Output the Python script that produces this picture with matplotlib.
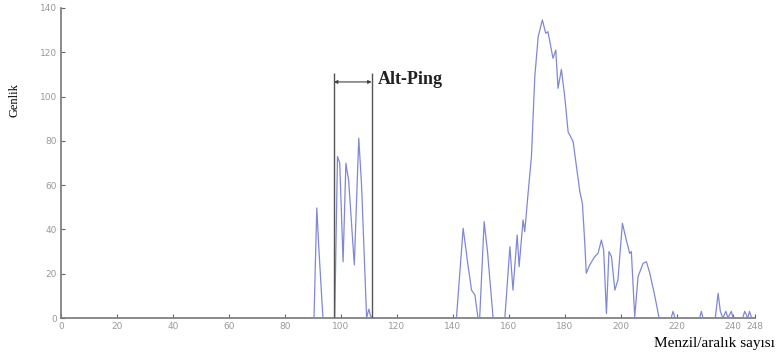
import matplotlib.pyplot as plt

# Amplitude profile (range bin vs amplitude)
x_vals = [0, 18, 90.4, 91.4, 92.2, 93.6, 97.8, 98.8, 99.6, 100.8, 101.8, 102.8, 104.8,
          106.4, 107.4, 109.2, 110.0, 110.6, 111.2, 141.3, 143.7, 145.5, 146.7, 147.9,
          149.0, 149.6, 151.2, 152.4, 154.4, 158.6, 160.4, 161.5, 163.0, 163.7, 165.1,
          165.7, 166.9, 168.1, 169.3, 170.5, 172.0, 173.2, 174.0, 175.8, 176.8, 177.6,
          178.8, 180.0, 181.2, 183.0, 184.2, 185.4, 186.3, 187.1, 187.7, 188.9, 190.7,
          191.9, 193.1, 193.9, 194.9, 195.8, 196.7, 197.9, 199.0, 200.6, 202.0, 203.2,
          203.8, 205.0, 206.2, 208.0, 209.2, 210.4, 212.1, 212.7, 213.7, 218.0, 218.7,
          219.4, 228.2, 228.8, 229.4, 233.8, 234.8, 235.6, 236.5, 237.6, 238.3, 239.5,
          240.2, 243.6, 244.3, 245.4, 246.0, 246.8, 248]
y_vals = [0, 0, 0, 49.7, 30, 0, 0, 72.9, 70, 25.4, 69.9, 62, 24,
          81.2, 60, 0, 4, 1, 0, 0, 40.5, 23.2, 12.6, 10.4,
          0, 0, 43.5, 30, 0, 0, 32.2, 12.6, 37.5, 23.2, 44.3,
          39.0, 56.3, 72.9, 109, 127, 134.6, 128.6, 129.3, 117.3, 121.0, 103.7,
          112.3, 100, 84.1, 79.6, 68.3, 57.0, 51.8, 35.2, 20.2, 23.9, 27.7,
          29.2, 35.2, 30.7, 2, 30, 27.7, 12.6, 17.2, 42.8, 35.2, 29.2,
          30, 0.6, 18.7, 24.7, 25.4, 20.2, 10.4, 6.6, 0, 0, 3,
          0, 0, 3, 0, 0, 11.2, 3, 0, 3, 0, 3,
          0, 0, 3, 0, 3, 0, 0]

x_ticks = [0, 20, 40, 60, 80, 100, 120, 140, 160, 180, 200, 220, 240, 248]
y_ticks = [0, 20, 40, 60, 80, 100, 120, 140]

# sub-ping window
ping_start = 97.5
ping_end = 111.0
ping_top = 110.6
arrow_y = 106.6

fig = plt.figure(figsize=(7.76, 3.58), dpi=100)
ax = fig.add_axes([0.0786, 0.1117, 0.8944, 0.866])

ax.plot(x_vals, y_vals, color='#8088d6', lw=0.9, zorder=3)

ax.vlines([ping_start, ping_end], 0, ping_top, color='#555555', lw=1.0, zorder=4)
ax.annotate('', xy=(ping_start, arrow_y), xytext=(ping_end, arrow_y),
            arrowprops=dict(arrowstyle='<|-|>', color='#444444', lw=0.8,
                            mutation_scale=5, shrinkA=0, shrinkB=0))
ax.text(ping_end + 2.3, arrow_y + 1.3, 'Alt-Ping', fontsize=13, weight='bold',
        family='Liberation Serif', va='center', ha='left', color='#222222')

ax.set_xlim(0, 248)
ax.set_ylim(0, 140)
ax.set_xticks(x_ticks)
ax.set_xticklabels([str(t) for t in x_ticks])
ax.set_yticks(y_ticks)
ax.tick_params(direction='in', length=3, width=0.8, color='#666666',
               labelsize=6.5, labelcolor='#999999', pad=3)

for side in ['top', 'right']:
    ax.spines[side].set_visible(False)
for side in ['left', 'bottom']:
    ax.spines[side].set_color('#777777')
    ax.spines[side].set_linewidth(1.2)

fig.text(15 / 776, 1 - 100 / 358, 'Genlik', rotation=90, fontsize=9,
         family='Liberation Serif', ha='center', va='center')
fig.text(654 / 776, 1 - 344 / 358, 'Menzil/aralık sayısı', fontsize=11,
         family='Liberation Serif', ha='left', va='center')

fig.savefig('out.png', dpi=100)
